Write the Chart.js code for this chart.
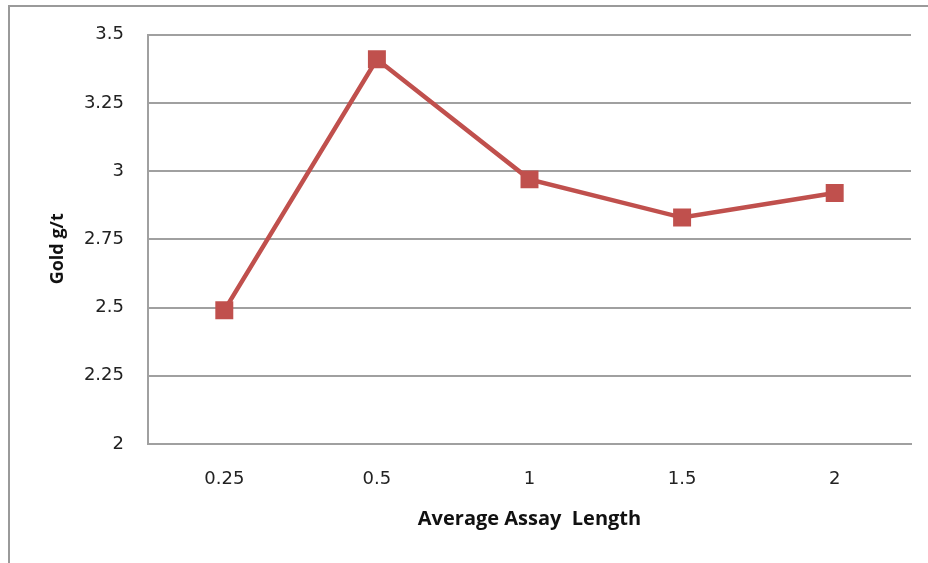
<!DOCTYPE html>
<html>
<head>
<meta charset="utf-8">
<script src="https://cdn.jsdelivr.net/npm/chart.js@4/dist/chart.umd.min.js"></script>
<style>
  html,body{ margin:0; padding:0; background:#fff; }
  .frame{ position:absolute; left:8px; top:5px; width:940px; height:580px; border-left:2px solid #9a9a9a; border-top:2px solid #9a9a9a; }
  .wrap{ position:absolute; left:0; top:0; width:928px; height:563px; }
</style>
</head>
<body>
<div class="frame"></div>
<div class="wrap"><canvas id="goldChart" width="928" height="563"></canvas></div>
<script>
const assayLengths = ["0.25","0.5","1","1.5","2"];
const goldGrades = [2.49, 3.41, 2.97, 2.83, 2.92];
const yTicks = [2, 2.25, 2.5, 2.75, 3, 3.25, 3.5];

const lineColor = "#C0504D";
const gridColor = "#a0a0a0";
const tickFont = { family:"'DejaVu Sans', sans-serif", size:18 };
const titleFamily = "'Open Sans', 'Noto Sans', sans-serif";

function renderChart(){
  const ctx = document.getElementById("goldChart").getContext("2d");

  new Chart(ctx,{
    type:"line",
    data:{
      labels:assayLengths,
      datasets:[{
        data:goldGrades,
        borderColor:lineColor,
        backgroundColor:lineColor,
        borderWidth:4.5,
        pointStyle:"rect",
        pointRadius:12.7,
        pointHoverRadius:12.7,
        pointBorderWidth:0,
        tension:0
      }]
    },
    options:{
      responsive:false,
      animation:false,
      layout:{ padding:{ left:0, right:17, top:31, bottom:0 } },
      plugins:{
        legend:{ display:false },
        tooltip:{ enabled:false }
      },
      scales:{
        x:{
          offset:true,
          grid:{ display:false, drawTicks:false },
          border:{ display:true, color:gridColor, width:2 },
          ticks:{ padding:25, color:"#222", font:tickFont },
          title:{
            display:true,
            text:"Average Assay  Length",
            color:"#111",
            font:{ family:titleFamily, size:20, weight:"bold" },
            padding:{ top:0, bottom:32 }
          },
          afterFit:function(scale){ scale.height = 119; }
        },
        y:{
          min:2,
          max:3.5,
          afterBuildTicks:function(scale){
            scale.ticks = yTicks.map(value => ({ value }));
          },
          grid:{ color:gridColor, lineWidth:2, drawTicks:false },
          border:{ display:true, color:gridColor, width:2 },
          ticks:{
            padding:24,
            color:"#222",
            font:tickFont,
            callback:function(value){ return String(value); }
          },
          title:{
            display:true,
            // trailing spaces push the rotated label a little lower, as in the original
            text:"Gold g/t    ",
            color:"#111",
            font:{ family:titleFamily, size:18, weight:"bold" },
            padding:{ top:47, bottom:0 }
          },
          afterFit:function(scale){ scale.width = 148; }
        }
      }
    }
  });
}

document.addEventListener("DOMContentLoaded",renderChart);
</script>
</body>
</html>
